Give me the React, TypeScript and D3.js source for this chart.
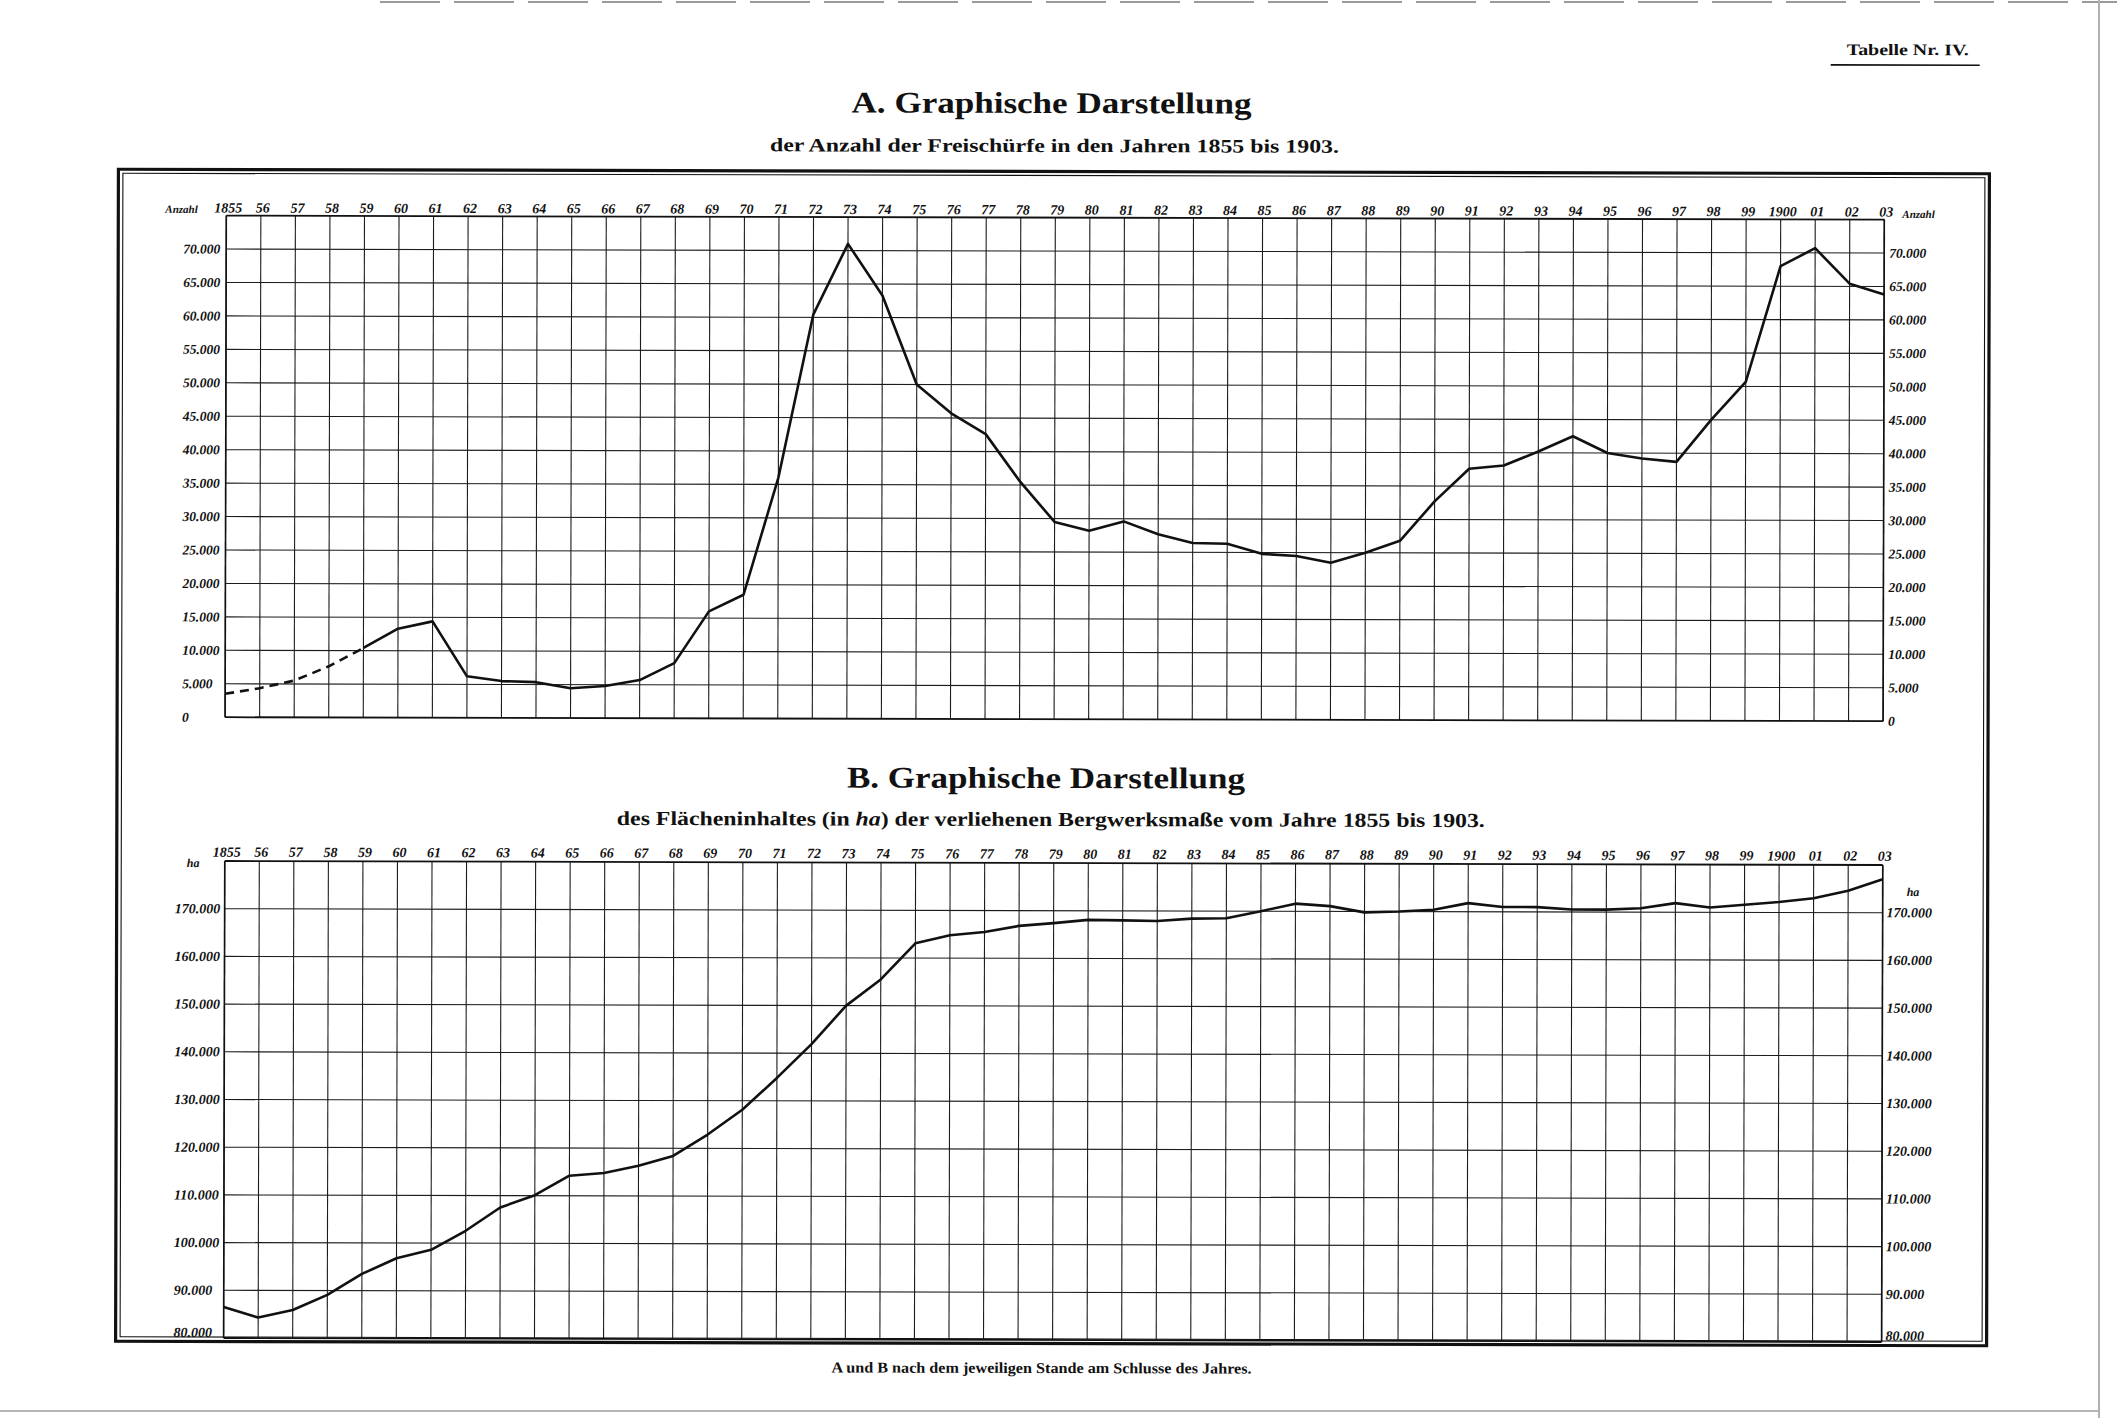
import React from 'react';
import * as d3 from 'd3';

// ---------- DATA ----------
const years = [
  1855, 1856, 1857, 1858, 1859, 1860, 1861, 1862, 1863, 1864,
  1865, 1866, 1867, 1868, 1869, 1870, 1871, 1872, 1873, 1874,
  1875, 1876, 1877, 1878, 1879, 1880, 1881, 1882, 1883, 1884,
  1885, 1886, 1887, 1888, 1889, 1890, 1891, 1892, 1893, 1894,
  1895, 1896, 1897, 1898, 1899, 1900, 1901, 1902, 1903,
];
const yearLabels = [
  '1855', '56', '57', '58', '59', '60', '61', '62', '63', '64',
  '65', '66', '67', '68', '69', '70', '71', '72', '73', '74',
  '75', '76', '77', '78', '79', '80', '81', '82', '83', '84',
  '85', '86', '87', '88', '89', '90', '91', '92', '93', '94',
  '95', '96', '97', '98', '99', '1900', '01', '02', '03',
];
// A: Anzahl der Freischürfe
const freischuerfe = [
  3500, 4350, 5500, 7650, 10400, 13300, 14400, 6200, 5500, 5350,
  4450, 4800, 5700, 8250, 16000, 18500, 36000, 60400, 71000, 63300,
  50000, 45700, 42600, 35500, 29500, 28200, 29600, 27700, 26400, 26300,
  24800, 24500, 23500, 25000, 26800, 32700, 37600, 38100, 40200, 42500,
  40000, 39200, 38700, 45000, 50700, 68000, 70700, 65400, 63800,
];
const dashedUntilYear = 1859;
// B: Flächeninhalt (ha) der verliehenen Bergwerksmaße
const flaeche = [
  86500, 84300, 85900, 89100, 93500, 96800, 98600, 102600, 107500, 110100,
  114200, 114800, 116300, 118400, 122900, 128100, 134800, 141900, 150000, 155500,
  163100, 164800, 165500, 166800, 167400, 168100, 168000, 167900, 168400, 168500,
  170000, 171600, 171100, 169800, 170000, 170400, 171800, 171000, 171000, 170500,
  170500, 170800, 171900, 171000, 171600, 172200, 173000, 174600, 177000,
];
const ticksA = [0, 5000, 10000, 15000, 20000, 25000, 30000, 35000, 40000, 45000, 50000, 55000, 60000, 65000, 70000];
const domainA = [0, 75000];
const ticksB = [80000, 90000, 100000, 110000, 120000, 130000, 140000, 150000, 160000, 170000];
const domainB = [80000, 180000];

// ---------- LAYOUT ----------
const W = 2117;
const H = 1418;
const xL = 225;
const xR = 1883;
const aTop = 217.6;
const aBot = 719.2;
const bTop = 863;
const bBot = 1340;

const FONT = "'Liberation Serif', 'DejaVu Serif', serif";
const INK = '#111';

export default function App() {
  const x = d3.scaleLinear().domain([years[0], years[years.length - 1]]).range([xL, xR]);
  const yA = d3.scaleLinear().domain(domainA).range([aBot, aTop]);
  const yB = d3.scaleLinear().domain(domainB).range([bBot, bTop]);
  const fmt = d3.formatLocale({ decimal: ',', thousands: '.', grouping: [3], currency: ['', ''] }).format(',d');

  const ptsA = years.map((yr, i) => ({ yr, v: freischuerfe[i] }));
  const ptsB = years.map((yr, i) => ({ yr, v: flaeche[i] }));
  const lineA = d3.line<any>().x((d) => x(d.yr)).y((d) => yA(d.v));
  const lineB = d3.line<any>().x((d) => x(d.yr)).y((d) => yB(d.v));
  const dashedPart = ptsA.filter((d) => d.yr <= dashedUntilYear);
  const solidPart = ptsA.filter((d) => d.yr >= dashedUntilYear);

  const gridColor = '#1c1c1c';

  const tickStyle = { fontFamily: FONT, fontStyle: 'italic', fontWeight: 700, fill: INK } as const;

  const yearRow = (baseline: number) =>
    years.map((yr, i) => (
      <text key={'yl' + yr} x={x(yr) + 2} y={baseline} textAnchor="middle" fontSize={14} {...tickStyle}>
        {yearLabels[i]}
      </text>
    ));

  const verticals = (top: number, bot: number) =>
    years.map((yr) => (
      <line key={'v' + yr} x1={x(yr)} x2={x(yr)} y1={top} y2={bot} stroke={gridColor} strokeWidth={1.1} />
    ));

  return (
    <svg
      width={W}
      height={H}
      viewBox={`0 0 ${W} ${H}`}
      style={{ position: 'absolute', left: 0, top: 0, display: 'block', background: '#fff' }}
    >
      <rect x={0} y={0} width={W} height={H} fill="#fff" />
      {/* scan page edges */}
      <line x1={380} x2={W} y1={2} y2={2} stroke="#9a9a9a" strokeWidth={2} strokeDasharray="60 14" />
      <line x1={2099} x2={2099} y1={0} y2={H} stroke="#b0b0b0" strokeWidth={2} />
      <line x1={0} x2={2099} y1={1411} y2={1411} stroke="#b5b5b5" strokeWidth={2} />

      <g transform="rotate(0.138 1054 760)">
        {/* header */}
        <text x={1906} y={53} textAnchor="middle" fontFamily={FONT} fontWeight={700} fontSize={16} fill={INK}
          textLength={122} lengthAdjust="spacingAndGlyphs">Tabelle Nr. IV.</text>
        <line x1={1829} x2={1978} y1={63} y2={63} stroke={INK} strokeWidth={1.6} />

        <text x={1050} y={113} textAnchor="middle" fontFamily={FONT} fontWeight={700} fontSize={30} fill={INK}
          textLength={400} lengthAdjust="spacingAndGlyphs">A. Graphische Darstellung</text>
        <text x={1053} y={152} textAnchor="middle" fontFamily={FONT} fontWeight={700} fontSize={19} fill={INK}
          textLength={569} lengthAdjust="spacingAndGlyphs">der Anzahl der Freischürfe in den Jahren 1855 bis 1903.</text>

        {/* frame */}
        <rect x={117} y={171.5} width={1871} height={1172} fill="none" stroke={INK} strokeWidth={3.2} />
        <rect x={121.5} y={175.5} width={1862} height={1163.5} fill="none" stroke={INK} strokeWidth={1.1} />

        {/* ---------- Chart A ---------- */}
        <g>
          {ticksA.filter((t) => t > 0).map((t) => (
            <line key={'ha' + t} x1={xL} x2={xR} y1={yA(t)} y2={yA(t)} stroke={gridColor} strokeWidth={1.1} />
          ))}
          {verticals(aTop, aBot)}
          <line x1={xL} x2={xR} y1={aTop} y2={aTop} stroke={INK} strokeWidth={1.8} />
          <line x1={xL} x2={xR} y1={aBot} y2={aBot} stroke={INK} strokeWidth={1.8} />
          <line x1={xL} x2={xL} y1={aTop} y2={aBot} stroke={INK} strokeWidth={1.6} />
          <line x1={xR} x2={xR} y1={aTop} y2={aBot} stroke={INK} strokeWidth={1.6} />
          {yearRow(214.5)}
          <text x={164} y={215} fontSize={11} {...tickStyle}>Anzahl</text>
          <text x={1901} y={216} fontSize={11} {...tickStyle}>Anzahl</text>
          {ticksA.map((t) => (
            <text key={'la' + t} x={182} y={yA(t) + 4.6} fontSize={13.5} {...tickStyle}>{fmt(t)}</text>
          ))}
          {ticksA.map((t) => (
            <text key={'ra' + t} x={1888} y={yA(t) + 4.6} fontSize={13.5} {...tickStyle}>{fmt(t)}</text>
          ))}
          <path d={lineA(dashedPart) || ''} fill="none" stroke={INK} strokeWidth={2.6} strokeDasharray="9 6" />
          <path d={lineA(solidPart) || ''} fill="none" stroke={INK} strokeWidth={2.6} strokeLinejoin="round" />
        </g>

        {/* ---------- Chart B titles ---------- */}
        <text x={1046} y={788} textAnchor="middle" fontFamily={FONT} fontWeight={700} fontSize={30} fill={INK}
          textLength={398} lengthAdjust="spacingAndGlyphs">B. Graphische Darstellung</text>
        <text x={1051} y={826} textAnchor="middle" fontFamily={FONT} fontWeight={700} fontSize={20} fill={INK}
          textLength={868} lengthAdjust="spacingAndGlyphs">
          des Flächeninhaltes (in <tspan fontStyle="italic">ha</tspan>) der verliehenen Bergwerksmaße vom Jahre 1855 bis 1903.
        </text>

        {/* ---------- Chart B ---------- */}
        <g>
          {ticksB.filter((t) => t > domainB[0]).map((t) => (
            <line key={'hb' + t} x1={xL} x2={xR} y1={yB(t)} y2={yB(t)} stroke={gridColor} strokeWidth={1.1} />
          ))}
          {verticals(bTop, bBot)}
          <line x1={xL} x2={xR} y1={bTop} y2={bTop} stroke={INK} strokeWidth={1.8} />
          <line x1={xL} x2={xR} y1={bBot} y2={bBot} stroke={INK} strokeWidth={1.8} />
          <line x1={xL} x2={xL} y1={bTop} y2={bBot} stroke={INK} strokeWidth={1.6} />
          <line x1={xR} x2={xR} y1={bTop} y2={bBot} stroke={INK} strokeWidth={1.6} />
          {yearRow(858.7)}
          <text x={187} y={869} fontSize={12} {...tickStyle}>ha</text>
          <text x={1907} y={894} fontSize={12} {...tickStyle}>ha</text>
          {ticksB.map((t) => (
            <text key={'lb' + t} x={175} y={yB(t) + (t === domainB[0] ? -1 : 4.6)} fontSize={14} {...tickStyle}>{fmt(t)}</text>
          ))}
          {ticksB.map((t) => (
            <text key={'rb' + t} x={1887} y={yB(t) + (t === domainB[0] ? -1.5 : 4.6)} fontSize={14} {...tickStyle}>{fmt(t)}</text>
          ))}
          <path d={lineB(ptsB) || ''} fill="none" stroke={INK} strokeWidth={2.6} strokeLinejoin="round" />
        </g>

        {/* footnote */}
        <text x={1043} y={1373} textAnchor="middle" fontFamily={FONT} fontWeight={700} fontSize={15} fill={INK}
          textLength={420} lengthAdjust="spacingAndGlyphs">A und B nach dem jeweiligen Stande am Schlusse des Jahres.</text>
      </g>
    </svg>
  );
}
